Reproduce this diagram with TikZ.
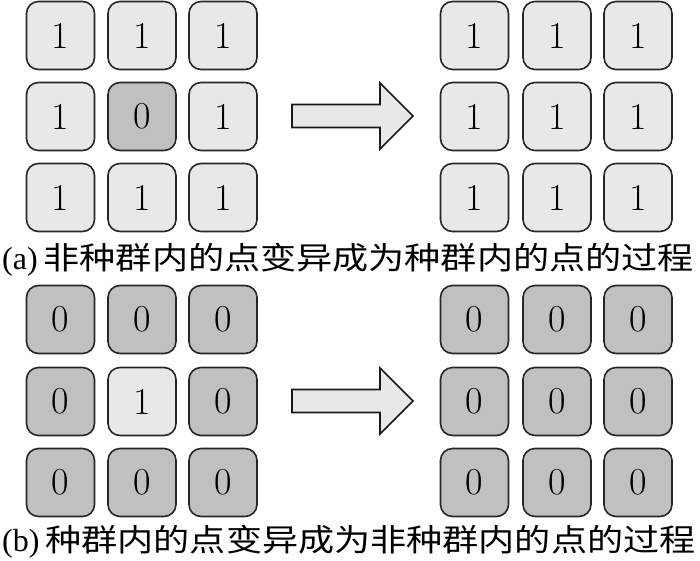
\documentclass[tikz,border=0pt]{standalone}
\usepackage{fontspec}
\newfontfamily\cjkfont{Noto Sans CJK SC}
\newfontfamily\capserif{Liberation Serif}
\definecolor{lightcell}{RGB}{232,232,232}
\definecolor{darkcell}{RGB}{192,192,192}
\newcommand{\captext}[2]{\capserif\fontsize{32}{32}\selectfont #1\hspace{6pt}\resizebox{650pt}{\height}{\cjkfont\fontsize{31}{31}\selectfont #2}}
\begin{document}
\begin{tikzpicture}[x=1pt,y=-1pt,
  cell/.style={draw=black!85,line width=1.6pt,rounded corners=12pt,minimum width=68pt,minimum height=68pt,inner sep=0pt,font=\fontsize{38}{38}\selectfont},
  lt/.style={cell,fill=lightcell},
  dk/.style={cell,fill=darkcell},
  bigarrow/.style={draw=black!90,line width=1.6pt,fill=lightcell,line join=miter},
  caption/.style={anchor=west,inner sep=0pt}]
\useasboundingbox (0,0) rectangle (700,560);
% (a) left grid
\node[lt] (a11) at (60.5,35.5) {1};
\node[lt] (a12) at (142,35.5) {1};
\node[lt] (a13) at (223,35.5) {1};
\node[lt] (a21) at (60.5,116.5) {1};
\node[dk] (a22) at (142,116.5) {0};
\node[lt] (a23) at (223,116.5) {1};
\node[lt] (a31) at (60.5,197.5) {1};
\node[lt] (a32) at (142,197.5) {1};
\node[lt] (a33) at (223,197.5) {1};
% (a) right grid
\node[lt] (ra11) at (474.5,35.5) {1};
\node[lt] (ra12) at (557,35.5) {1};
\node[lt] (ra13) at (638,35.5) {1};
\node[lt] (ra21) at (474.5,116.5) {1};
\node[lt] (ra22) at (557,116.5) {1};
\node[lt] (ra23) at (638,116.5) {1};
\node[lt] (ra31) at (474.5,197.5) {1};
\node[lt] (ra32) at (557,197.5) {1};
\node[lt] (ra33) at (638,197.5) {1};
% arrow (a)
\draw[bigarrow] (292,104.5) -- (380,104.5) -- (380,83) -- (413,116) -- (380,149) -- (380,127.5) -- (292,127.5) -- cycle;
\node[caption] (capa) at (2,260) {\captext{(a)}{非种群内的点变异成为种群内的点的过程}};
% (b) left grid
\node[dk] (b11) at (60.5,319.5) {0};
\node[dk] (b12) at (142,319.5) {0};
\node[dk] (b13) at (223,319.5) {0};
\node[dk] (b21) at (60.5,401.5) {0};
\node[lt] (b22) at (142,401.5) {1};
\node[dk] (b23) at (223,401.5) {0};
\node[dk] (b31) at (60.5,482.5) {0};
\node[dk] (b32) at (142,482.5) {0};
\node[dk] (b33) at (223,482.5) {0};
% (b) right grid
\node[dk] (rb11) at (474.5,319.5) {0};
\node[dk] (rb12) at (557,319.5) {0};
\node[dk] (rb13) at (638,319.5) {0};
\node[dk] (rb21) at (474.5,401.5) {0};
\node[dk] (rb22) at (557,401.5) {0};
\node[dk] (rb23) at (638,401.5) {0};
\node[dk] (rb31) at (474.5,482.5) {0};
\node[dk] (rb32) at (557,482.5) {0};
\node[dk] (rb33) at (638,482.5) {0};
% arrow (b)
\draw[bigarrow] (292,389.5) -- (380,389.5) -- (380,368) -- (413,401) -- (380,434) -- (380,412.5) -- (292,412.5) -- cycle;
\node[caption] (capb) at (2,542) {\captext{(b)}{种群内的点变异成为非种群内的点的过程}};
\end{tikzpicture}
\end{document}
